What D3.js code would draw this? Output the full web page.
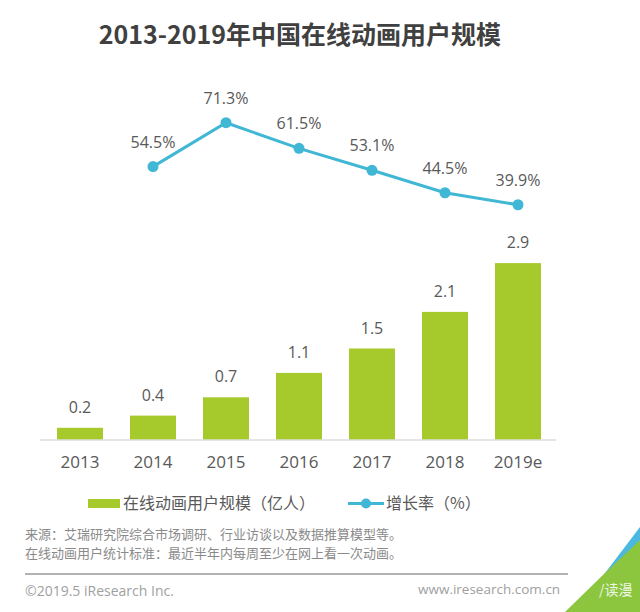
<!DOCTYPE html>
<html><head><meta charset="utf-8">
<script src="https://cdn.jsdelivr.net/npm/d3@7"></script>
<style>
body{margin:0;background:#fff;}
svg{display:block;}
text{font-family:"Open Sans","Noto Sans CJK SC",sans-serif;}
.cjk{font-family:"Noto Sans CJK SC","Open Sans",sans-serif;}
</style></head>
<body><svg id="c" width="640" height="612"></svg>
<script>
const title = "2013-2019年中国在线动画用户规模";
const years = ["2013","2014","2015","2016","2017","2018","2019e"];
const users = [0.2, 0.4, 0.7, 1.1, 1.5, 2.1, 2.9];
const growthYears = ["2014","2015","2016","2017","2018","2019e"];
const growth = [54.5, 71.3, 61.5, 53.1, 44.5, 39.9];
const legendLabels = ["在线动画用户规模（亿人）", "增长率（%）"];
const sourceLines = ["来源：艾瑞研究院综合市场调研、行业访谈以及数据推算模型等。", "在线动画用户统计标准：最近半年内每周至少在网上看一次动画。"];
const footerLeft = "©2019.5 iResearch Inc.";
const footerRight = "www.iresearch.com.cn";

const green = "#a6c92b", blue = "#40b7d4", txt = "#595959";
const svg = d3.select("#c");

svg.append("text").attr("class","cjk").attr("x",300).attr("y",44).attr("text-anchor","middle")
  .attr("font-size",25).attr("font-weight","bold").attr("fill","#404040").text(title);

const x = d3.scaleBand().domain(years).range([43.5,554.5]).paddingInner(0.37).paddingOuter(0.185);
const y = d3.scaleLinear().domain([0,3]).range([440,257]);
const yp = d3.scaleLinear().domain([0,80]).range([309,100]);

// bars
svg.append("g").selectAll("rect").data(years).join("rect")
  .attr("x",d=>x(d)).attr("width",x.bandwidth())
  .attr("y",(d,i)=>y(users[i])).attr("height",(d,i)=>y(0)-y(users[i]))
  .attr("fill",green);
svg.append("g").selectAll("text").data(years).join("text")
  .attr("x",d=>x(d)+x.bandwidth()/2).attr("y",(d,i)=>y(users[i])-15)
  .attr("text-anchor","middle").attr("font-size",16).attr("fill",txt)
  .text((d,i)=>users[i].toFixed(1));

// axis
const ax = svg.append("g").attr("transform","translate(0,440)").call(d3.axisBottom(x).tickSize(0).tickPadding(16));
ax.select(".domain").attr("stroke","#dcdcdc").attr("stroke-width",1.5).attr("d","M40,0H556");
ax.selectAll("text").attr("font-size",17).attr("fill",txt).attr("font-family","'Open Sans',sans-serif");

// line
const cx = d=>x(d)+x.bandwidth()/2;
const pts = growthYears.map((d,i)=>[cx(d), yp(growth[i])]);
svg.append("path").attr("d",d3.line()(pts)).attr("fill","none").attr("stroke",blue).attr("stroke-width",3);
svg.append("g").selectAll("circle").data(pts).join("circle")
  .attr("cx",d=>d[0]).attr("cy",d=>d[1]).attr("r",5.5).attr("fill",blue);
svg.append("g").selectAll("text").data(growthYears).join("text")
  .attr("x",d=>cx(d)).attr("y",(d,i)=>yp(growth[i])-19)
  .attr("text-anchor","middle").attr("font-size",16).attr("fill",txt)
  .text((d,i)=>growth[i].toFixed(1)+"%");

// legend
const lg = svg.append("g");
lg.append("rect").attr("x",88).attr("y",499).attr("width",32).attr("height",9).attr("fill",green);
lg.append("text").attr("class","cjk").attr("x",123).attr("y",509).attr("font-size",16).attr("fill",txt).text(legendLabels[0]);
lg.append("line").attr("x1",348).attr("x2",384).attr("y1",503.5).attr("y2",503.5).attr("stroke",blue).attr("stroke-width",3);
lg.append("circle").attr("cx",366).attr("cy",503.5).attr("r",5).attr("fill",blue);
lg.append("text").attr("class","cjk").attr("x",386).attr("y",509).attr("font-size",16).attr("fill",txt).text(legendLabels[1]);

// source
svg.append("g").selectAll("text").data(sourceLines).join("text").attr("class","cjk")
  .attr("x",25).attr("y",(d,i)=>539+i*19).attr("font-size",13).attr("fill","#8a8a8a").text(d=>d);

// footer
svg.append("line").attr("x1",25).attr("x2",568).attr("y1",574).attr("y2",574).attr("stroke","#9a9a9a").attr("stroke-width",1.5);
svg.append("text").attr("x",25).attr("y",596).attr("font-size",14).attr("fill","#a0a0a0")
  .attr("font-family","'Liberation Sans',Arial,sans-serif").text(footerLeft);
svg.append("text").attr("x",418).attr("y",594).attr("font-size",13.5).attr("fill","#a0a0a0")
  .attr("font-family","'Liberation Sans',Arial,sans-serif").text(footerRight);

// corner decoration
svg.append("polygon").attr("points","596,585 640,527 640,548 606,590").attr("fill","#4ab8e0");
svg.append("polygon").attr("points","565,612 606,572 640,540 640,612").attr("fill","#8cc63f");
svg.append("text").attr("class","cjk").attr("x",599).attr("y",595).attr("font-size",14).attr("fill","#ffffff").attr("opacity",0.85).text("/读漫");
</script></body></html>
